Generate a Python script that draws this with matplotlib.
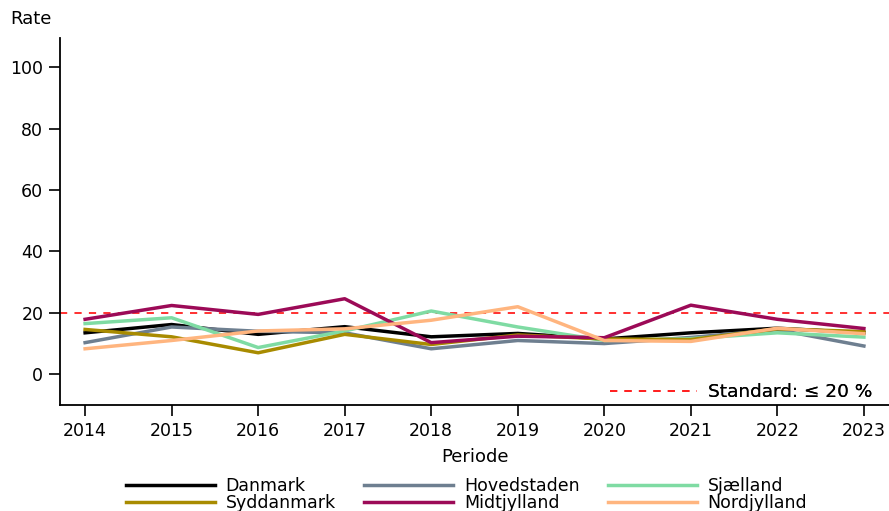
import matplotlib
matplotlib.use("Agg")
import matplotlib.pyplot as plt
from matplotlib.lines import Line2D

years = [2014, 2015, 2016, 2017, 2018, 2019, 2020, 2021, 2022, 2023]
danmark     = [13.5, 16.2, 13.0, 15.5, 12.2, 13.3, 11.5, 13.5, 15.0, 13.5]
hovedstaden = [10.3, 15.4, 14.0, 13.5, 8.3, 11.0, 10.0, 12.0, 14.5, 9.2]
sjaelland   = [16.5, 18.4, 8.7, 14.1, 20.6, 15.4, 11.0, 11.6, 13.5, 12.1]
syddanmark  = [14.6, 12.2, 7.0, 13.0, 9.7, 12.8, 11.5, 11.3, 14.8, 13.9]
midtjylland = [17.9, 22.4, 19.5, 24.6, 10.3, 12.4, 11.9, 22.5, 17.9, 14.9]
nordjylland = [8.3, 11.0, 14.1, 14.8, 17.6, 22.0, 11.0, 10.7, 15.0, 13.2]
standard = 20

series = {
    "Danmark": (danmark, "#000000"),
    "Hovedstaden": (hovedstaden, "#6E7F90"),
    "Sjælland": (sjaelland, "#7FDBA3"),
    "Syddanmark": (syddanmark, "#A88B00"),
    "Midtjylland": (midtjylland, "#9C0A57"),
    "Nordjylland": (nordjylland, "#FFB57F"),
}
# legend order (column-major for matplotlib so rows read as in reference)
legend_order = ["Danmark", "Syddanmark", "Hovedstaden", "Midtjylland", "Sjælland", "Nordjylland"]

plt.rcParams['font.family'] = ['DejaVu Sans']
fig = plt.figure(figsize=(8.89, 5.11), dpi=100)
ax = fig.add_axes([0.0675, 0.2075, 0.9325, 0.718])

handles = {}
for name, (vals, col) in series.items():
    h, = ax.plot(years, vals, color=col, lw=2.5, label=name, zorder=3)
    handles[name] = h

ax.axhline(standard, color="#FF2020", lw=1.3, ls=(0, (4, 4)), zorder=2)

ax.set_xlim(2013.71, 2023.29)
ax.set_ylim(-10, 109.5)
ax.set_xticks(years)
ax.set_yticks([0, 20, 40, 60, 80, 100])
ax.tick_params(direction='out', length=8, width=1.2, labelsize=12.5, pad=4)
for s in ['top', 'right']:
    ax.spines[s].set_visible(False)
for s in ['left', 'bottom']:
    ax.spines[s].set_linewidth(1.3)

ax.set_xlabel("Periode", fontsize=13, labelpad=6)
fig.text(0.011, 0.963, "Rate", fontsize=13, ha='left', va='center')

leg2 = ax.legend([Line2D([0], [0], color="#FF2020", lw=1.3, ls=(0, (4, 4)))],
                 ["Standard: \u2264 20 %"], loc='lower right', frameon=False,
                 fontsize=13.3, handlelength=4.7, handletextpad=0.6,
                 bbox_to_anchor=(1.0, -0.035))
ax.add_artist(leg2)

fig.legend(handles=[handles[n] for n in legend_order], labels=legend_order,
           loc='lower center', ncol=3, frameon=False,
           fontsize=12.5, handlelength=5.1, columnspacing=1.65,
           handletextpad=0.63, labelspacing=-0.05,
           bbox_to_anchor=(0.525, -0.032))

fig.savefig("out.png", dpi=100)
